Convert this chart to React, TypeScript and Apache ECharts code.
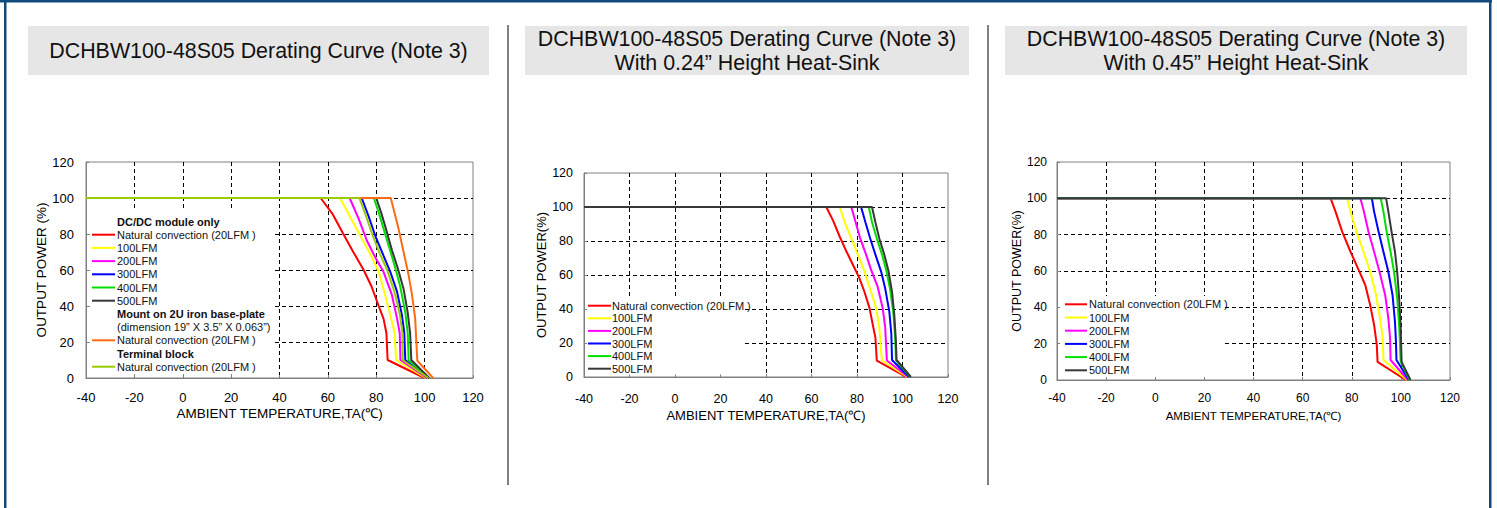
import React, { useEffect, useRef } from 'react';
import * as echarts from 'echarts';

// ---------- data ----------
const X_MIN = -40;
const X_MAX = 120;
const X_STEP = 20;
const Y_MIN = 0;
const Y_MAX = 120;
const Y_STEP = 20;

const TITLE_MAIN = 'DCHBW100-48S05 Derating Curve (Note 3)';
const TITLE_SUB_2 = 'With 0.24\u201D Height Heat-Sink';
const TITLE_SUB_3 = 'With 0.45\u201D Height Heat-Sink';
const X_NAME = 'AMBIENT TEMPERATURE,TA(\u2103)';

// Chart 1: DC/DC module only + base-plate + terminal block
const c1Red: [number, number][] = [[-40, 100], [57, 100], [62, 91], [66, 81], [70.5, 70], [74.8, 60], [78, 51], [81, 40], [83, 33], [84.2, 25], [84.7, 10], [100, 0]];
const c1Yellow: [number, number][] = [[-40, 100], [65, 100], [69, 90], [73.4, 79], [77.5, 69], [81, 59], [83.7, 46], [85.8, 35], [87.6, 25], [88.2, 10], [100.5, 0]];
const c1Magenta: [number, number][] = [[-40, 100], [69, 100], [72.7, 88.5], [76.1, 76.4], [79.6, 67], [83, 59], [86.5, 46], [88.6, 33], [89.7, 25], [90, 10], [101, 0]];
const c1Blue: [number, number][] = [[-40, 100], [74, 100], [76.8, 90], [79.6, 79], [83, 68], [85.8, 59], [88.6, 48], [90.6, 35], [91.6, 25], [92, 10], [101.3, 0]];
const c1Green: [number, number][] = [[-40, 100], [79, 100], [81, 92], [83, 83], [85.5, 72], [87.9, 61], [89.9, 51], [92, 36.5], [93, 25], [93.4, 10], [101.6, 0]];
const c1Black: [number, number][] = [[-40, 100], [80, 100], [82, 92], [84.2, 82], [86.5, 71], [88.9, 61], [91.3, 49.5], [93, 36.5], [94, 25], [94.5, 10], [101.9, 0]];
const c1Orange: [number, number][] = [[-40, 100], [86, 100], [89.2, 83], [91.3, 70], [93.4, 57], [94.8, 46], [96.1, 33], [96.8, 14], [97, 9.6], [103.5, 0]];
const c1Olive: [number, number][] = [[-40, 100], [73, 100], [75.5, 91], [78.3, 80], [81.5, 69], [84.5, 60], [87.5, 48], [89.8, 35], [90.8, 25], [91, 10], [101.5, 0]];

// Chart 2: with 0.24" heat-sink
const c2Red: [number, number][] = [[-40, 100], [66.5, 100], [69.5, 92], [72.4, 82.5], [75.3, 74], [78.2, 66], [81.1, 58], [83.3, 50], [85.5, 40.5], [86.9, 31], [88.1, 23], [88.7, 9.7], [101.8, 0]];
const c2Yellow: [number, number][] = [[-40, 100], [72.4, 100], [74.6, 91], [77.5, 81.5], [80.4, 72], [83.3, 62], [86.2, 50], [88.4, 40.5], [89.8, 29], [90.6, 15], [91, 9.7], [102.2, 0]];
const c2Magenta: [number, number][] = [[-40, 100], [77.5, 100], [79.4, 91], [81.4, 81.5], [84, 72], [86.2, 63], [89.1, 53], [91.3, 40.5], [92.4, 29], [93, 13], [93.1, 9.7], [102.6, 0]];
const c2Blue: [number, number][] = [[-40, 100], [81.8, 100], [83.7, 91], [85.8, 81.5], [88.1, 72], [90.6, 62], [92.4, 52], [94.2, 38.6], [95.1, 25], [95.4, 10], [102.9, 0]];
const c2Green: [number, number][] = [[-40, 100], [85.2, 100], [86.6, 91], [88.7, 81.5], [91, 72], [93, 62], [94.5, 52], [95.9, 38.6], [96.8, 23], [97.1, 10], [103.4, 0]];
const c2Black: [number, number][] = [[-40, 100], [86.6, 100], [88.1, 91], [89.8, 81.5], [92, 72], [93.9, 62], [95.4, 50], [96.4, 36.6], [97.1, 21], [97.4, 10], [103.7, 0]];

// Chart 3: with 0.45" heat-sink
const c3Red: [number, number][] = [[-40, 100], [71.4, 100], [73.4, 92.7], [76.1, 81.7], [79.5, 70.6], [82.8, 60.6], [85.5, 52.3], [87.5, 41.3], [89.1, 30.3], [90.2, 19.3], [90.5, 10], [102, 0]];
const c3Yellow: [number, number][] = [[-40, 100], [78.1, 100], [79.5, 92.7], [81.9, 81.7], [84.8, 70.6], [87.5, 59.6], [89.9, 46.8], [91.5, 34], [92.6, 23], [92.9, 11], [102.5, 0]];
const c3Magenta: [number, number][] = [[-40, 100], [83.5, 100], [84.8, 93.6], [86.8, 81.7], [89.1, 70.6], [91.3, 59.6], [93.6, 46.8], [94.9, 34], [95.6, 23], [95.8, 11], [102.9, 0]];
const c3Blue: [number, number][] = [[-40, 100], [88.2, 100], [89.1, 92.7], [90.9, 81.7], [92.9, 70.6], [94.9, 59.6], [96.6, 46.8], [97.6, 32], [98, 21], [98.2, 11], [103.3, 0]];
const c3Green: [number, number][] = [[-40, 100], [91.8, 100], [92.9, 92.7], [94.2, 81.7], [95.8, 70.6], [97.2, 59.6], [98.5, 45], [99.3, 30], [99.6, 21], [99.9, 10], [103.6, 0]];
const c3Black: [number, number][] = [[-40, 100], [94, 100], [94.9, 92.7], [96.2, 81.7], [97.6, 70.6], [98.5, 59.6], [99.3, 45], [99.9, 30], [100.3, 10], [103.9, 0]];

const airflowLabels = ['Natural convection (20LFM )', '100LFM', '200LFM', '300LFM', '400LFM', '500LFM'];
const chart1Legend = [
  'DC/DC module only',
  'Natural convection (20LFM )', '100LFM', '200LFM', '300LFM', '400LFM', '500LFM',
  'Mount on 2U iron base-plate',
  '(dimension 19\u201D X 3.5\u201D X 0.063\u201D)',
  'Natural convection (20LFM )',
  'Terminal block',
  'Natural convection (20LFM )',
];

// ---------- styles ----------
const RED = '#ff0000';
const YELLOW = '#ffff00';
const MAGENTA = '#ff00ff';
const BLUE = '#0000ff';
const GREEN = '#00e000';
const BLACK = '#383838';
const ORANGE = '#ff6a13';
const OLIVE = '#99cc00';
const FONT = '"Liberation Sans", Arial, sans-serif';
const GRID_GRAY = '#808080';

export default function App() {
  const ref = useRef<HTMLDivElement>(null);

  useEffect(() => {
    if (!ref.current) return;
    const chart = echarts.init(ref.current, undefined, { renderer: 'svg' });

    const grids = [
      { left: 86, top: 162, width: 387, height: 216 },
      { left: 584, top: 173, width: 364, height: 204 },
      { left: 1057, top: 162, width: 393, height: 218 },
    ];
    const cfg = [
      { labelSize: 13, xNameSize: 13.5, yNameSize: 13.5, xLabelMargin: 13, yLabelMargin: 12, xNameGap: 28, yNameGap: 38, yName: 'OUTPUT POWER (%)' },
      { labelSize: 12.5, xNameSize: 13, yNameSize: 13, xLabelMargin: 15, yLabelMargin: 11, xNameGap: 32, yNameGap: 34, yName: 'OUTPUT POWER(%)' },
      { labelSize: 12, xNameSize: 11.5, yNameSize: 12.5, xLabelMargin: 12, yLabelMargin: 10, xNameGap: 30, yNameGap: 30, yName: 'OUTPUT POWER(%)' },
    ];

    const splitLine = {
      show: true,
      showMinLine: false,
      showMaxLine: false,
      lineStyle: { color: '#000', width: 1, type: [4, 3] as any },
    };

    const xAxis = cfg.map((c, i) => ({
      type: 'value',
      gridIndex: i,
      min: X_MIN,
      max: X_MAX,
      interval: X_STEP,
      name: X_NAME,
      nameLocation: 'middle',
      nameGap: c.xNameGap,
      nameTextStyle: { color: '#000', fontSize: c.xNameSize, fontFamily: FONT },
      axisLine: { show: true, onZero: false, lineStyle: { color: GRID_GRAY, width: 1 } },
      axisTick: { show: true, inside: true, length: 3, lineStyle: { color: GRID_GRAY } },
      axisLabel: { color: '#000', fontSize: c.labelSize, fontFamily: FONT, margin: c.xLabelMargin, showMinLabel: true, showMaxLabel: true },
      splitLine,
    }));
    const yAxis = cfg.map((c, i) => ({
      type: 'value',
      gridIndex: i,
      min: Y_MIN,
      max: Y_MAX,
      interval: Y_STEP,
      name: c.yName,
      nameLocation: 'middle',
      nameGap: c.yNameGap,
      nameTextStyle: { color: '#000', fontSize: c.yNameSize, fontFamily: FONT },
      axisLine: { show: true, onZero: false, lineStyle: { color: GRID_GRAY, width: 1 } },
      axisTick: { show: true, inside: true, length: 3, lineStyle: { color: GRID_GRAY } },
      axisLabel: { color: '#000', fontSize: c.labelSize, fontFamily: FONT, margin: c.yLabelMargin, showMinLabel: true, showMaxLabel: true },
      splitLine,
    }));

    const mk = (name: string, data: [number, number][], color: string, idx: number) => ({
      type: 'line',
      name,
      data,
      xAxisIndex: idx,
      yAxisIndex: idx,
      showSymbol: false,
      symbol: 'none',
      lineStyle: { color, width: 2 },
      itemStyle: { color },
      z: 3,
    });

    const series = [
      mk('C1 Natural convection (20LFM)', c1Red, RED, 0),
      mk('C1 100LFM', c1Yellow, YELLOW, 0),
      mk('C1 200LFM', c1Magenta, MAGENTA, 0),
      mk('C1 300LFM', c1Blue, BLUE, 0),
      mk('C1 400LFM', c1Green, GREEN, 0),
      mk('C1 500LFM', c1Black, BLACK, 0),
      mk('C1 Base-plate natural convection (20LFM)', c1Orange, ORANGE, 0),
      mk('C1 Terminal block natural convection (20LFM)', c1Olive, OLIVE, 0),
      mk('C2 Natural convection (20LFM)', c2Red, RED, 1),
      mk('C2 100LFM', c2Yellow, YELLOW, 1),
      mk('C2 200LFM', c2Magenta, MAGENTA, 1),
      mk('C2 300LFM', c2Blue, BLUE, 1),
      mk('C2 400LFM', c2Green, GREEN, 1),
      mk('C2 500LFM', c2Black, BLACK, 1),
      mk('C3 Natural convection (20LFM)', c3Red, RED, 2),
      mk('C3 100LFM', c3Yellow, YELLOW, 2),
      mk('C3 200LFM', c3Magenta, MAGENTA, 2),
      mk('C3 300LFM', c3Blue, BLUE, 2),
      mk('C3 400LFM', c3Green, GREEN, 2),
      mk('C3 500LFM', c3Black, BLACK, 2),
    ];

    const graphics: any[] = [];

    // page frame
    const FRAME = '#124a7d';
    graphics.push({ type: 'rect', shape: { x: 0, y: 0, width: 1492, height: 2.5 }, style: { fill: FRAME }, z: 100 });
    graphics.push({ type: 'rect', shape: { x: 4, y: 0, width: 2.5, height: 508 }, style: { fill: FRAME }, z: 100 });
    graphics.push({ type: 'rect', shape: { x: 1489, y: 0, width: 2.5, height: 508 }, style: { fill: FRAME }, z: 100 });

    // panel separators
    [508, 988].forEach((x) => {
      graphics.push({ type: 'rect', shape: { x: x - 1, y: 25, width: 2, height: 460 }, style: { fill: '#808080' }, z: 100 });
    });

    // title boxes
    const titleBoxes = [
      { x: 28, w: 461, lines: [TITLE_MAIN] },
      { x: 525, w: 444, lines: [TITLE_MAIN, TITLE_SUB_2] },
      { x: 1005, w: 462, lines: [TITLE_MAIN, TITLE_SUB_3] },
    ];
    titleBoxes.forEach((b) => {
      graphics.push({ type: 'rect', shape: { x: b.x, y: 26, width: b.w, height: 49 }, style: { fill: '#e6e6e6' }, z: 100 });
      graphics.push({
        type: 'text',
        x: b.x + b.w / 2,
        y: 51,
        z: 101,
        style: {
          text: b.lines.join('\n'),
          fill: '#111',
          fontSize: 21.4,
          fontFamily: FONT,
          align: 'center',
          verticalAlign: 'middle',
          lineHeight: 24,
        },
      });
    });

    // legends
    const legendBlock = (
      box: { x: number; y: number; w: number; h: number },
      lx1: number, lx2: number, tx: number, y0: number, step: number,
      rows: { text: string; color?: string; bold?: boolean }[],
    ) => {
      graphics.push({ type: 'rect', shape: { x: box.x, y: box.y, width: box.w, height: box.h }, style: { fill: '#fff' }, z: 50 });
      rows.forEach((r, i) => {
        const y = y0 + i * step;
        if (r.color) {
          graphics.push({ type: 'line', shape: { x1: lx1, y1: y, x2: lx2, y2: y }, style: { stroke: r.color, lineWidth: 2 }, z: 51 });
        }
        graphics.push({
          type: 'text', x: tx, y, z: 51,
          style: { text: r.text, fill: '#111', fontSize: 11, fontWeight: r.bold ? 'bold' : 'normal', fontFamily: FONT, align: 'left', verticalAlign: 'middle' },
        });
      });
    };

    const c1Colors: (string | undefined)[] = [undefined, RED, YELLOW, MAGENTA, BLUE, GREEN, BLACK, undefined, undefined, ORANGE, undefined, OLIVE];
    const c1Bold = [true, false, false, false, false, false, false, true, false, false, true, false];
    legendBlock({ x: 89.5, y: 209, w: 185, h: 165.5 }, 92, 115, 117, 221.5, 13.2,
      chart1Legend.map((t, i) => ({ text: t, color: c1Colors[i], bold: c1Bold[i] })));

    const airColors = [RED, YELLOW, MAGENTA, BLUE, GREEN, BLACK];
    legendBlock({ x: 587, y: 298, w: 157, h: 76.5 }, 588, 611, 612, 305.7, 12.6,
      airflowLabels.map((t, i) => ({ text: t, color: airColors[i] })));
    legendBlock({ x: 1060, y: 296, w: 164, h: 81 }, 1065, 1087, 1089, 304.3, 13.2,
      airflowLabels.map((t, i) => ({ text: t, color: airColors[i] })));

    chart.setOption({
      animation: false,
      backgroundColor: '#fff',
      grid: grids.map((g) => ({ ...g, show: true, borderColor: GRID_GRAY, borderWidth: 1, backgroundColor: 'transparent', containLabel: false })),
      xAxis,
      yAxis,
      series,
      graphic: graphics,
    } as any);

    return () => chart.dispose();
  }, []);

  return <div ref={ref} style={{ position: 'fixed', left: 0, top: 0, width: 1497, height: 508 }} />;
}
